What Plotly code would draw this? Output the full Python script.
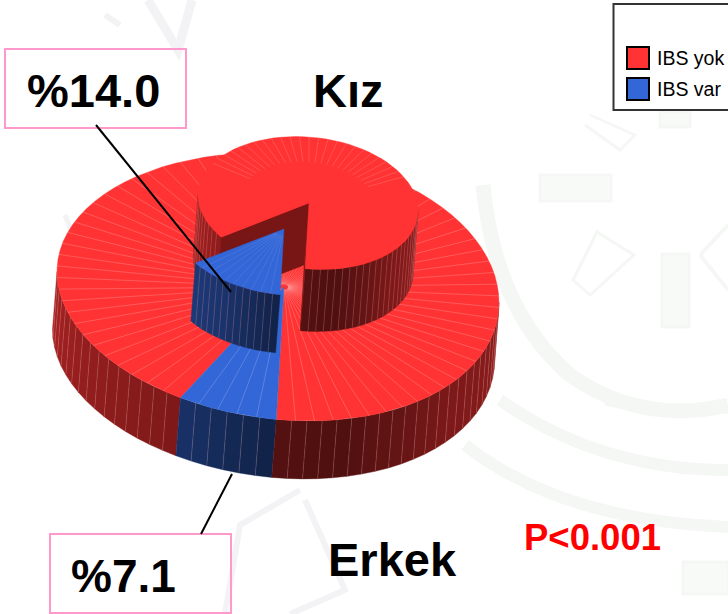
import numpy as np
import plotly.graph_objects as go

# ---------- data ----------
GROUPS = ["Kız", "Erkek"]
SERIES = ["IBS yok", "IBS var"]
IBS_YOK = [86.0, 92.9]
IBS_VAR = [14.0, 7.1]
VALUE_LABELS = ["%14.0", "%7.1"]
P_LABEL = "P<0.001"

# ---------- styles / geometry ----------
RED = (255, 51, 51)
BLUE = (51, 102, 214)
START = 268.0      # where the IBS var wedge starts, running clockwise
SHEAR = 0.07
LEAN = -0.078
STEP = 4.0
RAY = "rgba(255,215,215,0.42)"
WATER = "#f5f7f5"
WATER2 = "#f3f3f6"


def rgb(c):
    return "rgb(%d,%d,%d)" % tuple(int(round(v)) for v in c)


def shade(theta):
    t = theta % 360
    s = np.interp(t, [0, 90, 180, 210, 240, 268, 285, 302, 320, 360],
                  [.55, .58, .66, .58, .50, .33, .31, .39, .49, .55])
    return float(s)


def proj(c, theta, r=1.0, h=0.0):
    cx, cy, rx, ry, skew = c
    co, si = np.cos(np.radians(theta)), np.sin(np.radians(theta))
    x = cx + r * (rx * co - skew * co * co) + LEAN * h
    y = cy - r * ry * si + SHEAR * r * rx * co + h
    return x, y


fig = go.Figure()


def poly(pts, color, line=None):
    xs = [p[0] for p in pts] + [pts[0][0]]
    ys = [p[1] for p in pts] + [pts[0][1]]
    fig.add_trace(go.Scatter(x=xs, y=ys, mode="lines", fill="toself", fillcolor=color,
                             line=dict(color=line or color, width=0.4),
                             hoverinfo="skip", showlegend=False))


def arange(a, b, step=STEP):
    """angles from a to b inclusive, step-ish spacing"""
    n = max(1, int(round(abs(b - a) / step)))
    return np.linspace(a, b, n + 1)


def wedge_top(c, a, b, color):
    poly([proj(c, a, 0)] + [proj(c, t) for t in arange(a, b)], color)


def rays(c, a, b, r0, r1=1.0, color=RAY, width=0.6, step=5.0):
    xs, ys = [], []
    for t in arange(a, b, step)[1:-1]:
        p, q = proj(c, t, r0), proj(c, t, r1)
        xs += [p[0], q[0], None]
        ys += [p[1], q[1], None]
    fig.add_trace(go.Scatter(x=xs, y=ys, mode="lines", line=dict(color=color, width=width),
                             hoverinfo="skip", showlegend=False))


def wall(c, a, b, base, h):
    ts = arange(a, b)
    for t0, t1 in zip(ts[:-1], ts[1:]):
        s = shade((t0 + t1) / 2)
        col = rgb([v * s for v in base])
        poly([proj(c, t0), proj(c, t1), proj(c, t1, 1, h), proj(c, t0, 1, h)], col)
    xs, ys = [], []
    for t in ts[1:-1]:
        p, q = proj(c, t), proj(c, t, 1, h)
        xs += [p[0], q[0], None]
        ys += [p[1], q[1], None]
    fig.add_trace(go.Scatter(x=xs, y=ys, mode="lines",
                             line=dict(color="rgba(255,190,190,0.32)", width=0.6),
                             hoverinfo="skip", showlegend=False))


def radial_wall(c, t, h, color):
    poly([proj(c, t, 0), proj(c, t, 1), proj(c, t, 1, h), proj(c, t, 0, h)], color)


# ---------- outer ring (Erkek) ----------
ERK = (284, 287, 221, 133, 6)
erk_end = START - IBS_VAR[1] * 3.6
erk_red_end = erk_end - IBS_YOK[1] * 3.6
H1 = 58
wall(ERK, 180, erk_end, RED, H1)
wall(ERK, erk_end, START, BLUE, H1)
wall(ERK, START, 360, RED, H1)
wedge_top(ERK, erk_end, erk_red_end, rgb(RED))
wedge_top(ERK, START, erk_end, rgb(BLUE))
rays(ERK, erk_end, erk_red_end, 0.02)
rays(ERK, START, erk_end, 0.2, color="rgba(225,225,255,0.4)")

# ---------- inner ring (Kız) ----------
kiz_end = START - IBS_VAR[0] * 3.6
kiz_red_end = kiz_end - IBS_YOK[0] * 3.6
KIZ_R = (309, 203, 110, 66, 1)
KIZ_B = (284, 229, 111, 66, 1)
H2 = 62
H3 = 58
# red exploded part
wall(KIZ_R, 180, kiz_end, RED, H2)
wall(KIZ_R, START, 360, RED, H2)
radial_wall(KIZ_R, kiz_end, H2, "rgb(120,22,22)")
radial_wall(KIZ_R, START, H2, "rgb(125,24,24)")
wedge_top(KIZ_R, kiz_end, kiz_red_end, rgb(RED))
rays(KIZ_R, 155, 25, 0.62, color="rgba(255,215,215,0.30)")
# blue part
wall(KIZ_B, kiz_end, START, BLUE, H3)
wedge_top(KIZ_B, START, kiz_end, rgb(BLUE))
rays(KIZ_B, START, kiz_end, 0.1, color="rgba(200,210,255,0.22)")

# ---------- layout ----------
shapes = []


def water_path(d, color=WATER, w=7):
    shapes.append(dict(type="path", path=d, line=dict(color=color, width=w), layer="below"))


def water_box(x0, y0, x1, y1, fill="#f8faf8", color=WATER):
    shapes.append(dict(type="rect", x0=x0, y0=y0, x1=x1, y1=y1, fillcolor=fill,
                       line=dict(color=color, width=3), layer="below"))


# faint emblem behind the chart
water_path("M 483 185 Q 495 310 570 375 Q 640 425 728 405", w=15)
water_path("M 500 400 Q 600 470 728 470", w=12)
water_path("M 465 445 Q 560 520 728 527", w=12)
water_path("M 605 402 Q 660 415 728 410", w=7)
water_box(540, 175, 611, 201)
water_box(662, 254, 689, 327)
water_box(660, 112, 690, 127)
water_box(683, 562, 728, 594)
water_path("M 597 232 L 634 255 L 590 295 L 573 280 Z", w=3)
water_path("M 590 115 L 635 135 L 620 150 L 585 125", w=3)
water_path("M 700 255 L 728 225 M 700 255 L 728 290", w=4)
water_path("M 148 0 L 178 50 L 192 0", color=WATER2, w=9)
water_path("M 105 15 L 120 25", color=WATER2, w=6)
water_path("M 300 490 L 240 525 L 225 614", color=WATER2, w=6)
water_path("M 305 500 L 345 590 L 290 614", color=WATER2, w=6)
water_path("M 65 215 L 75 240", color=WATER2, w=5)

# label boxes and leaders
PINK = "#ff99cc"
shapes.append(dict(type="rect", x0=5, y0=49, x1=186, y1=128, line=dict(color=PINK, width=2), fillcolor="rgba(255,255,255,0)"))
shapes.append(dict(type="rect", x0=50, y0=534, x1=231, y1=613, line=dict(color=PINK, width=2), fillcolor="rgba(255,255,255,0)"))
shapes.append(dict(type="line", x0=96, y0=125, x1=231, y1=292, line=dict(color="black", width=2)))
shapes.append(dict(type="line", x0=232, y0=474, x1=201, y1=534, line=dict(color="black", width=2)))

# legend
shapes.append(dict(type="rect", x0=613.5, y0=4, x1=735, y1=110, line=dict(color="#333333", width=2)))
SWATCH = [rgb(RED), rgb(BLUE)]
anns = []
for i, name in enumerate(SERIES):
    y0 = 47 + i * 31
    shapes.append(dict(type="rect", x0=627, y0=y0, x1=649, y1=y0 + 22, fillcolor=SWATCH[i],
                       line=dict(color="black", width=2)))
    anns.append(dict(x=654.5, y=y0 + 11, text=name, xanchor="left", yanchor="middle", showarrow=False,
                     font=dict(family="Liberation Sans", size=19.5, color="black")))

BOLD = "Liberation Sans"


def label(x, y, text, size, color="black"):
    anns.append(dict(x=x, y=y, text="<b>%s</b>" % text, xanchor="center", yanchor="middle", showarrow=False,
                     font=dict(family=BOLD, size=size, color=color)))


label(348, 90, GROUPS[0], 47)
label(392, 559, GROUPS[1], 47)
label(93, 90, VALUE_LABELS[0], 47)
label(123.5, 576, VALUE_LABELS[1], 46)
label(592, 537, P_LABEL, 36.5, "#ff0000")

fig.update_layout(
    width=728, height=614, margin=dict(l=0, r=0, t=0, b=0),
    paper_bgcolor="white", plot_bgcolor="rgba(0,0,0,0)", showlegend=False,
    xaxis=dict(range=[0, 728], visible=False, fixedrange=True),
    yaxis=dict(range=[614, 0], visible=False, fixedrange=True),
    shapes=shapes, annotations=anns,
)
fig.write_html("out.html", config={"displayModeBar": False},
               post_script="document.body.style.margin='0';document.documentElement.style.overflow='hidden';")
